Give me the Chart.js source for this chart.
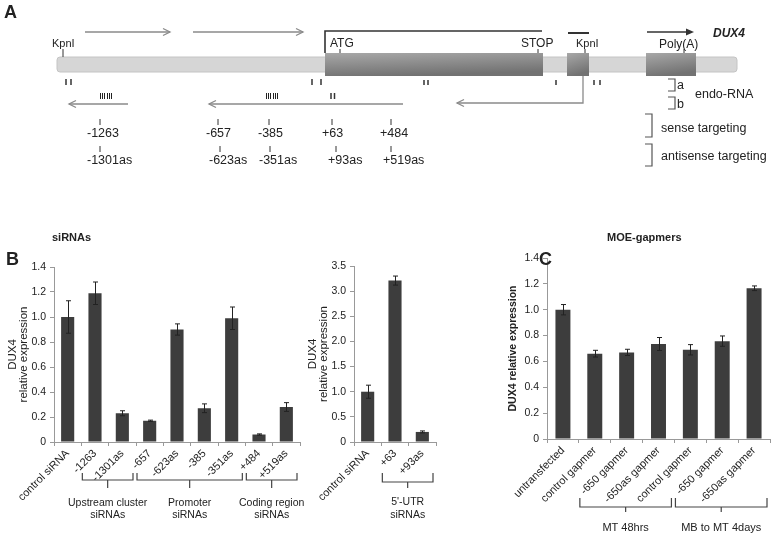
<!DOCTYPE html>
<html>
<head>
<meta charset="utf-8">
<script src="https://cdn.jsdelivr.net/npm/chart.js@4"></script>
<style>
  body { margin: 0; background: #fff; width: 773px; height: 537px; overflow: hidden; position: relative; font-family: "Liberation Sans", Arial, sans-serif; }
  canvas { position: absolute; }
  svg { position: absolute; left: 0; top: 0; }
  svg text { font-family: "Liberation Sans", Arial, sans-serif; fill: #222; }
</style>
</head>
<body>
<canvas id="siChart" width="310" height="287" style="left:0;top:250px"></canvas>
<canvas id="utrChart" width="145" height="287" style="left:300px;top:250px"></canvas>
<canvas id="gapChart" width="280" height="292" style="left:493px;top:245px"></canvas>

<svg width="773" height="270">
  <defs>
    <linearGradient id="exon" x1="0" y1="0" x2="0.3" y2="1">
      <stop offset="0" stop-color="#a8a8a8"/>
      <stop offset="1" stop-color="#727272"/>
    </linearGradient>
  </defs>
  <text x="4" y="18" font-size="18" font-weight="bold">A</text>

  <!-- transcript arrows above -->
  <g stroke="#8a8a8a" stroke-width="1.3" fill="none">
    <line x1="85" y1="32" x2="170" y2="32"/><polyline points="163,28.5 170,32 163,35.5"/>
    <line x1="193" y1="32" x2="303" y2="32"/><polyline points="296,28.5 303,32 296,35.5"/>
  </g>

  <!-- gene body -->
  <rect x="57" y="57" width="680" height="15" rx="3" fill="#d6d6d6" stroke="#c4c4c4"/>
  <rect x="325" y="53" width="218" height="23" fill="url(#exon)"/>
  <rect x="567" y="53" width="22" height="23" fill="url(#exon)"/>
  <rect x="646" y="53" width="50" height="23" fill="url(#exon)"/>

  <g stroke="#333" fill="none">
    <polyline points="325,53 325,31 542,31" stroke-width="1.6"/>
    <line x1="568" y1="33" x2="589" y2="33" stroke-width="2"/>
    <line x1="647" y1="32" x2="691" y2="32" stroke-width="1.6"/>
  </g>
  <polygon points="694,32 686,28.5 686,35.5" fill="#333"/>
  <text x="713" y="37" font-size="12" font-weight="bold" font-style="italic">DUX4</text>

  <!-- site labels on the body -->
  <g stroke="#333" stroke-width="1">
    <line x1="63" y1="49" x2="63" y2="57"/>
    <line x1="340" y1="49" x2="340" y2="53"/>
    <line x1="538" y1="49" x2="538" y2="53"/>
    <line x1="585" y1="49" x2="585" y2="53"/>
    <line x1="684" y1="49" x2="684" y2="53"/>
  </g>
  <text x="52" y="47" font-size="11">KpnI</text>
  <text x="330" y="47" font-size="12">ATG</text>
  <text x="521" y="47" font-size="12">STOP</text>
  <text x="576" y="47" font-size="11">KpnI</text>
  <text x="659" y="48" font-size="12">Poly(A)</text>

  <!-- small marks under the body -->
  <g stroke="#333" stroke-width="1.5">
    <line x1="66" y1="79" x2="66" y2="85"/><line x1="71" y1="79" x2="71" y2="85"/>
    <line x1="312" y1="79" x2="312" y2="85"/><line x1="321" y1="79" x2="321" y2="85"/>
    <line x1="424" y1="80" x2="424" y2="85"/><line x1="428" y1="80" x2="428" y2="85"/>
    <line x1="556" y1="80" x2="556" y2="85"/>
    <line x1="594" y1="80" x2="594" y2="85"/><line x1="600" y1="80" x2="600" y2="85"/>
    <line x1="331" y1="93" x2="331" y2="99"/><line x1="334.5" y1="93" x2="334.5" y2="99"/>
  </g>
  <g stroke="#222" stroke-width="1">
    <line x1="100.5" y1="93" x2="100.5" y2="99"/><line x1="102.5" y1="93" x2="102.5" y2="99"/><line x1="104.5" y1="93" x2="104.5" y2="99"/>
    <line x1="107.5" y1="93" x2="107.5" y2="99"/><line x1="109.5" y1="93" x2="109.5" y2="99"/><line x1="111.5" y1="93" x2="111.5" y2="99"/>
    <line x1="266.5" y1="93" x2="266.5" y2="99"/><line x1="268.5" y1="93" x2="268.5" y2="99"/><line x1="270.5" y1="93" x2="270.5" y2="99"/>
    <line x1="273.5" y1="93" x2="273.5" y2="99"/><line x1="275.5" y1="93" x2="275.5" y2="99"/><line x1="277.5" y1="93" x2="277.5" y2="99"/>
  </g>

  <!-- antisense arrows -->
  <g stroke="#8a8a8a" stroke-width="1.3" fill="none">
    <line x1="69" y1="104" x2="128" y2="104"/><polyline points="76,100.5 69,104 76,107.5"/>
    <line x1="209" y1="104" x2="403" y2="104"/><polyline points="216,100.5 209,104 216,107.5"/>
    <polyline points="583,76 583,103 457,103"/><polyline points="464,99.5 457,103 464,106.5"/>
  </g>

  <!-- siRNA positions -->
  <g stroke="#333" stroke-width="1">
    <line x1="100" y1="119" x2="100" y2="125"/><line x1="100" y1="146" x2="100" y2="152"/>
    <line x1="218" y1="119" x2="218" y2="125"/><line x1="220" y1="146" x2="220" y2="152"/>
    <line x1="269" y1="119" x2="269" y2="125"/><line x1="270" y1="146" x2="270" y2="152"/>
    <line x1="332" y1="119" x2="332" y2="125"/><line x1="336" y1="146" x2="336" y2="152"/>
    <line x1="391" y1="119" x2="391" y2="125"/><line x1="391" y1="146" x2="391" y2="152"/>
  </g>
  <g font-size="12.5">
    <text x="87" y="137">-1263</text><text x="87" y="164">-1301as</text>
    <text x="206" y="137">-657</text><text x="209" y="164">-623as</text>
    <text x="258" y="137">-385</text><text x="259" y="164">-351as</text>
    <text x="322" y="137">+63</text><text x="328" y="164">+93as</text>
    <text x="380" y="137">+484</text><text x="383" y="164">+519as</text>
  </g>

  <!-- legend brackets -->
  <g stroke="#555" stroke-width="1.2" fill="none">
    <polyline points="668,79 675,79 675,91 668,91"/>
    <polyline points="668,97 675,97 675,109 668,109"/>
    <polyline points="645,114 652,114 652,137 645,137"/>
    <polyline points="645,144 652,144 652,166 645,166"/>
  </g>
  <g font-size="12.5">
    <text x="677" y="89">a</text><text x="677" y="108">b</text>
    <text x="695" y="98">endo-RNA</text>
    <text x="661" y="132">sense targeting</text>
    <text x="661" y="160">antisense targeting</text>
  </g>

  <!-- panel headings -->
  <text x="6" y="265" font-size="18" font-weight="bold">B</text>
  <text x="539" y="265" font-size="18" font-weight="bold">C</text>
  <text x="52" y="241" font-size="11" font-weight="bold">siRNAs</text>
  <text x="607" y="241" font-size="11" font-weight="bold">MOE-gapmers</text>
</svg>

<script>
// siRNA knockdown (panel B, left)
const siLabels = ["control siRNA", "-1263", "-1301as", "-657", "-623as", "-385", "-351as", "+484", "+519as"];
const siValues = [1.00, 1.19, 0.23, 0.17, 0.90, 0.27, 0.99, 0.06, 0.28];
const siErrors = [0.13, 0.09, 0.02, 0.005, 0.045, 0.035, 0.09, 0.005, 0.035];

// 5'-UTR siRNAs (panel B, right)
const utrLabels = ["control siRNA", "+63", "+93as"];
const utrValues = [1.00, 3.21, 0.20];
const utrErrors = [0.13, 0.09, 0.02];

// MOE-gapmers (panel C)
const gapLabels = ["untransfected", "control gapmer", "-650 gapmer", "-650as gapmer", "control gapmer", "-650 gapmer", "-650as gapmer"];
const gapValues = [1.00, 0.66, 0.67, 0.735, 0.69, 0.757, 1.166];
const gapErrors = [0.04, 0.026, 0.024, 0.05, 0.04, 0.04, 0.018];

// groups under the x axis: [first index, last index, text lines]
const siGroups = [[1, 2, ["Upstream cluster", "siRNAs"]], [3, 6, ["Promoter", "siRNAs"]], [7, 8, ["Coding region", "siRNAs"]]];
const utrGroups = [[1, 2, ["5'-UTR", "siRNAs"]]];
const gapGroups = [[1, 3, ["MT 48hrs"]], [4, 6, ["MB to MT 4days"]]];

const FONT = '"Liberation Sans", Arial, sans-serif';

// draws +/- error whiskers on top of the bars
const errorBars = {
  id: "errorBars",
  afterDatasetsDraw(chart, args, opts) {
    const { ctx, scales: { x, y } } = chart;
    const vals = chart.data.datasets[0].data;
    ctx.save();
    ctx.strokeStyle = "#222";
    ctx.lineWidth = 1;
    vals.forEach((v, i) => {
      const e = opts.errors[i];
      const px = Math.round(x.getPixelForValue(i)) + 0.5;
      const top = y.getPixelForValue(v + e);
      const bot = y.getPixelForValue(v - e);
      ctx.beginPath();
      ctx.moveTo(px, top); ctx.lineTo(px, bot);
      ctx.moveTo(px - 2.5, top); ctx.lineTo(px + 2.5, top);
      ctx.moveTo(px - 2.5, bot); ctx.lineTo(px + 2.5, bot);
      ctx.stroke();
    });
    ctx.restore();
  }
};

// brackets with group names under the rotated labels
const groupBrackets = {
  id: "groupBrackets",
  afterDraw(chart, args, opts) {
    const { ctx, chartArea, scales: { x } } = chart;
    const half = (x.getPixelForValue(1) - x.getPixelForValue(0)) / 2;
    const b = chartArea.bottom;
    ctx.save();
    ctx.strokeStyle = "#444";
    ctx.lineWidth = 1.2;
    ctx.fillStyle = "#222";
    ctx.font = opts.fontSize + "px " + FONT;
    ctx.textAlign = "center";
    ctx.textBaseline = "middle";
    opts.groups.forEach(([from, to, lines]) => {
      const l = x.getPixelForValue(from) - half + 1;
      const r = x.getPixelForValue(to) + half - 3;
      const m = (l + r) / 2;
      ctx.beginPath();
      ctx.moveTo(l, b + opts.top); ctx.lineTo(l, b + opts.bottom); ctx.lineTo(r, b + opts.bottom); ctx.lineTo(r, b + opts.top);
      ctx.moveTo(m, b + opts.bottom); ctx.lineTo(m, b + opts.stem);
      ctx.stroke();
      lines.forEach((t, k) => ctx.fillText(t, m, b + opts.text + k * opts.lineGap));
    });
    ctx.restore();
  }
};

function barChart(id, labels, values, errors, groups, cfg) {
  return new Chart(document.getElementById(id), {
    type: "bar",
    data: {
      labels: labels,
      datasets: [{
        data: values,
        backgroundColor: "#3d3d3d",
        categoryPercentage: 1,
        barPercentage: cfg.barPct,
      }],
    },
    options: {
      responsive: false,
      animation: false,
      layout: { padding: cfg.padding },
      plugins: {
        legend: { display: false },
        tooltip: { enabled: false },
        errorBars: { errors: errors },
        groupBrackets: Object.assign({ groups: groups }, cfg.brackets),
      },
      scales: {
        x: {
          grid: { offset: true, drawOnChartArea: false, tickLength: 4, color: "#999" },
          border: { color: "#999" },
          ticks: { minRotation: 45, maxRotation: 45, autoSkip: false, color: "#222", padding: 1, font: { family: FONT, size: 11 } },
          afterFit(s) { s.height = cfg.xHeight; },
        },
        y: {
          min: 0,
          max: cfg.max,
          ticks: { stepSize: cfg.step, color: "#222", padding: 4, font: { family: FONT, size: 10.5 } },
          grid: { drawOnChartArea: false, tickLength: 4, color: "#999" },
          border: { color: "#999" },
          title: { display: true, text: cfg.title, color: "#222", padding: cfg.titlePad, font: { family: FONT, size: cfg.titleSize, weight: cfg.titleWeight, lineHeight: 1.0 } },
          afterFit(s) { s.width = cfg.yWidth; },
        },
      },
    },
    plugins: [errorBars, groupBrackets],
  });
}

barChart("siChart", siLabels, siValues, siErrors, siGroups, {
  barPct: 0.48, max: 1.4, step: 0.2, yWidth: 54, xHeight: 95,
  padding: { top: 17, right: 10, left: 0, bottom: 0 },
  title: ["DUX4", "relative expression"], titleSize: 11.5, titleWeight: "normal", titlePad: { top: 7, bottom: 0 },
  brackets: { top: 31, bottom: 38, stem: 46, text: 61, lineGap: 12, fontSize: 10.5 },
});

barChart("utrChart", utrLabels, utrValues, utrErrors, utrGroups, {
  barPct: 0.48, max: 3.5, step: 0.5, yWidth: 54, xHeight: 95,
  padding: { top: 16, right: 9, left: 0, bottom: 0 },
  title: ["DUX4", "relative expression"], titleSize: 11.5, titleWeight: "normal", titlePad: { top: 7, bottom: 0 },
  brackets: { top: 31, bottom: 40, stem: 46, text: 60, lineGap: 13, fontSize: 10.5 },
});

barChart("gapChart", gapLabels, gapValues, gapErrors, gapGroups, {
  barPct: 0.47, max: 1.4, step: 0.2, yWidth: 54, xHeight: 98,
  padding: { top: 13, right: 3, left: 0, bottom: 0 },
  title: "DUX4 relative expression", titleSize: 10.5, titleWeight: "bold", titlePad: { top: 15, bottom: 0 },
  brackets: { top: 59, bottom: 68, stem: 73, text: 89, lineGap: 12, fontSize: 11 },
});
</script>
</body>
</html>
